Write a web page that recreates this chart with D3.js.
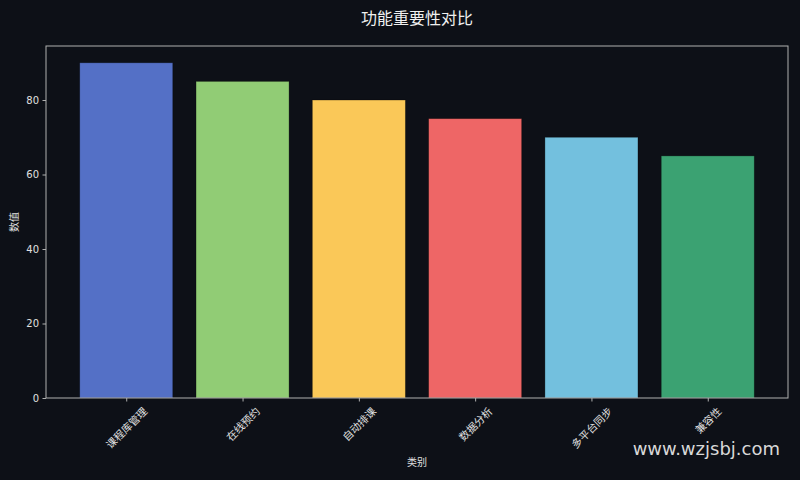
<html>
<head>
<meta charset="utf-8">
<style>
    body {
        margin: 0;
        background: #0d1017;
    }
    svg {
        display: block;
        font-family: "Noto Sans CJK SC", "DejaVu Sans", sans-serif;
    }
    .axis .domain {
        display: none;
    }
    .axis .tick line {
        stroke: #b0b0b0;
    }
    .axis .tick text {
        fill: #e0e0e0;
        font-size: 10px;
        font-family: "DejaVu Sans", "Noto Sans CJK SC", sans-serif;
    }
    .x-labels text {
        fill: #e0e0e0;
        font-size: 10.5px;
    }
</style>
</head>
<body>
<svg width="800" height="480"></svg>

<script src="https://d3js.org/d3.v7.min.js"></script>
<script>
    // chart data
    let categories = ["课程库管理", "在线预约", "自动排课", "数据分析", "多平台同步", "兼容性"]
    let values = [90, 85, 80, 75, 70, 65]
    let barColors = ["#5470c6", "#91cc75", "#fac858", "#ee6666", "#73c0de", "#3ba272"]
    let yTicks = [0, 20, 40, 60, 80]

    let width = 800
    let height = 480
    let margin = {top: 46, right: 12, bottom: 82, left: 46}

    let svg = d3.select("svg")

    // matplotlib-like layout: bar width 0.8, 5% x margins
    let n = categories.length
    let lo = -0.4, hi = n - 1 + 0.4
    let pad = (hi - lo) * 0.05

    let x = d3.scaleLinear()
        .domain([lo - pad, hi + pad])
        .range([margin.left, width - margin.right])

    let yMax = d3.max(values) * 1.05
    let y = d3.scaleLinear()
        .domain([0, yMax])
        .range([height - margin.bottom, margin.top])

    let barW = x(0.8) - x(0)

    // bars
    svg.append("g")
        .selectAll("rect")
        .data(values)
        .join("rect")
        .attr("x", (d, i) => x(i) - barW / 2)
        .attr("y", d => y(d))
        .attr("width", barW)
        .attr("height", d => y(0) - y(d))
        .attr("fill", (d, i) => barColors[i])
        .attr("stroke", "rgba(0,0,0,0.35)")
        .attr("stroke-width", 0.8)

    // y axis
    svg.append("g")
        .attr("class", "y axis")
        .attr("transform", `translate(${margin.left},0)`)
        .call(d3.axisLeft(y).tickValues(yTicks).tickSize(3.5).tickPadding(3.5))

    // x axis ticks (labels drawn separately, rotated)
    svg.append("g")
        .attr("class", "x axis")
        .attr("transform", `translate(0,${height - margin.bottom})`)
        .call(d3.axisBottom(x).tickValues(d3.range(n)).tickSize(3.5).tickFormat(""))

    // frame
    svg.append("rect")
        .attr("x", margin.left)
        .attr("y", margin.top)
        .attr("width", width - margin.left - margin.right)
        .attr("height", height - margin.top - margin.bottom)
        .attr("fill", "none")
        .attr("stroke", "#b0b0b0")
        .attr("stroke-width", 1)

    // rotated category labels, centred under ticks like matplotlib rotation=45
    let labels = svg.append("g").attr("class", "x-labels")
    categories.forEach((c, i) => {
        let t = labels.append("text")
            .attr("text-anchor", "middle")
            .attr("dominant-baseline", "central")
            .text(c)
        let w = t.node().getComputedTextLength()
        let h = 11
        let half = (w + h) * Math.SQRT1_2 / 2
        let cx = x(i)
        let cy = height - margin.bottom + 3.5 + 3.5 + half
        t.attr("transform", `translate(${cx},${cy}) rotate(-45)`)
    })

    // title
    svg.append("text")
        .attr("x", (margin.left + width - margin.right) / 2)
        .attr("y", 24)
        .attr("text-anchor", "middle")
        .attr("fill", "#f0f0f0")
        .style("font-size", "16px")
        .text("功能重要性对比")

    // axis labels
    svg.append("text")
        .attr("x", (margin.left + width - margin.right) / 2)
        .attr("y", 466)
        .attr("text-anchor", "middle")
        .attr("fill", "#e0e0e0")
        .style("font-size", "10px")
        .text("类别")

    svg.append("text")
        .attr("transform", `translate(18,${(margin.top + height - margin.bottom) / 2}) rotate(-90)`)
        .attr("text-anchor", "middle")
        .attr("fill", "#e0e0e0")
        .style("font-size", "10px")
        .text("数值")

    // watermark
    svg.append("text")
        .attr("x", 780)
        .attr("y", 455)
        .attr("text-anchor", "end")
        .attr("fill", "#d8d8d8")
        .style("font-size", "18px")
        .style("font-family", "'DejaVu Sans', sans-serif")
        .text("www.wzjsbj.com")
</script>
</body>
</html>
